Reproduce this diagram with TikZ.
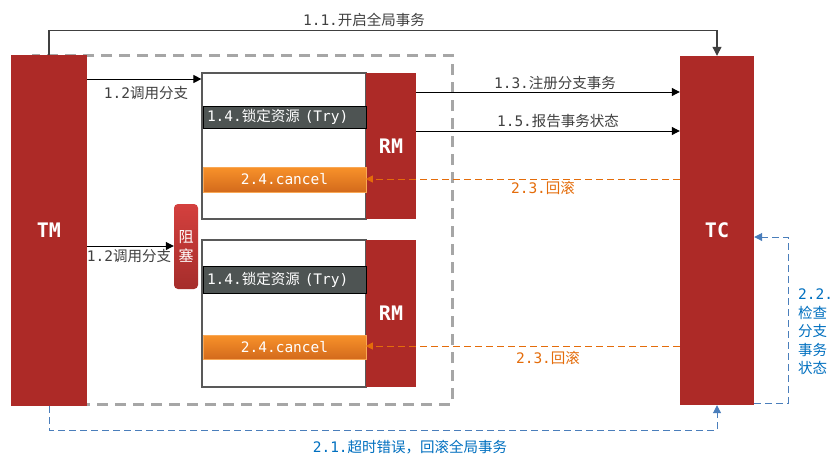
\documentclass[tikz,border=0pt]{standalone}
\usepackage{fontspec}
\setmainfont{Noto Sans CJK SC}
\newfontfamily\monof{DejaVu Sans Mono}
\usetikzlibrary{arrows.meta}
\definecolor{cred}{HTML}{AD2A27}
\definecolor{cdark}{HTML}{4E5453}
\definecolor{corgT}{HTML}{F8922A}
\definecolor{corgB}{HTML}{D36A1C}
\definecolor{corg}{HTML}{E46C0A}
\definecolor{cblue}{HTML}{4A7EBB}
\definecolor{cbluetxt}{HTML}{0070C0}
\definecolor{cgray}{HTML}{A6A6A6}
\definecolor{ctxt}{HTML}{404040}
\definecolor{cbox}{HTML}{595959}
\definecolor{cblkT}{HTML}{D4403E}
\definecolor{cblkB}{HTML}{A52D2B}
\tikzset{
  comp/.style={fill=cred, draw=none, text=white, font=\fontsize{20}{24}\selectfont\monof\bfseries, inner sep=0pt},
  branchbox/.style={draw=cbox, line width=1.2pt, fill=white, inner sep=0pt},
  trybar/.style={fill=cdark, draw=black, line width=1pt, text=white, font=\fontsize{14.5}{16}\selectfont, inner sep=0pt, minimum width=163pt, text width=155pt, align=left},
  cancelbar/.style={top color=corgT, bottom color=corgB, draw=corgT!80!white, line width=0.6pt, text=white, font=\fontsize{14.5}{16}\selectfont\monof, inner sep=0pt, minimum width=163pt},
  blockbox/.style={top color=cblkT, bottom color=cblkB, draw=none, rounded corners=4pt, text=white, font=\fontsize{15}{19}\selectfont, inner sep=0pt, minimum width=24pt, minimum height=85pt, align=center},
  lbl/.style={text=ctxt, font=\fontsize{14.5}{16}\selectfont, inner sep=0pt},
  olbl/.style={text=corg, font=\fontsize{14.5}{16}\selectfont, inner sep=0pt},
  blbl/.style={text=cbluetxt, font=\fontsize{14.5}{16}\selectfont, inner sep=0pt},
  arr/.style={draw=black, line width=1pt, -{Triangle[length=8pt,width=8pt]}},
  garr/.style={draw=ctxt, line width=1.2pt, -{Triangle[length=9pt,width=9pt]}},
  oarr/.style={draw=corg, line width=1pt, dash pattern=on 7pt off 4pt, -{Triangle[length=7pt,width=7pt]}},
  barr/.style={draw=cblue, line width=1pt, dash pattern=on 7pt off 4pt, -{Triangle[length=8pt,width=8pt]}},
}
\begin{document}
\begin{tikzpicture}[x=1pt,y=-1pt]
\useasboundingbox[fill=white] (0,0) rectangle (834,464);
% grey dashed boundary
\draw[cgray, line width=3pt, dash pattern=on 11pt off 7pt] (32,55) rectangle (452,404);
% TM and TC
\node[comp, minimum width=76pt, minimum height=351pt] (TM) at (49,230.5) {TM};
\node[comp, minimum width=74pt, minimum height=349pt] (TC) at (717,230.5) {TC};
% branch 1
\node[branchbox, minimum width=164pt, minimum height=146pt] (B1) at (284,146) {};
\node[comp, minimum width=50pt, minimum height=146pt] (RM1) at (391,146) {RM};
\node[trybar, minimum height=22pt] (T1) at (284.5,117) {{\monof 1.4.}锁定资源{\monof\ (Try)}};
\node[cancelbar, minimum height=25pt] (C1) at (284.5,179.5) {2.4.cancel};
% branch 2
\node[branchbox, minimum width=164pt, minimum height=147pt] (B2) at (284,313.5) {};
\node[comp, minimum width=50pt, minimum height=147pt] (RM2) at (391,313.5) {RM};
\node[trybar, minimum height=27pt] (T2) at (284.5,279.5) {{\monof 1.4.}锁定资源{\monof\ (Try)}};
\node[cancelbar, minimum height=24pt] (C2) at (284.5,347) {2.4.cancel};
% blocking
\node[blockbox] (BLK) at (186,246.5) {阻\\塞};
% 1.1
\draw[garr] (TM.north) -- ++(0,-24) -| (TC.north);
\node[lbl] (L11) at (364,20) {{\monof 1.1.}开启全局事务};
% 1.2
\draw[arr] (TM.east |- 0,79) -- (B1.west |- 0,79);
\node[lbl] (L12a) at (146,93) {{\monof 1.2}调用分支};
\draw[arr] (TM.east |- 0,246) -- (BLK.west |- 0,246);
\node[lbl] (L12b) at (129,256) {{\monof 1.2}调用分支};
% 1.3 / 1.5
\draw[arr] (RM1.east |- 0,92) -- (TC.west |- 0,92);
\node[lbl] (L13) at (555,83) {{\monof 1.3.}注册分支事务};
\draw[arr] (RM1.east |- 0,131) -- (TC.west |- 0,131);
\node[lbl] (L15) at (558,121) {{\monof 1.5.}报告事务状态};
% 2.3
\draw[oarr] (TC.west |- 0,179) -- (RM1.west |- 0,179);
\node[olbl] (L23a) at (543,188) {{\monof 2.3.}回滚};
\draw[oarr] (TC.west |- 0,346) -- (RM2.west |- 0,346);
\node[olbl] (L23b) at (548,358) {{\monof 2.3.}回滚};
% 2.1
\draw[barr] (TM.south) -- ++(0,24) -| (TC.south);
\node[blbl] (L21) at (410,447) {{\monof 2.1.}超时错误，回滚全局事务};
% 2.2
\draw[barr] (TC.east |- 0,403) -- (788,403) |- (TC.east |- 0,237);
\node[blbl, font=\fontsize{14.5}{18.5}\selectfont, align=left, anchor=north west] (L22) at (798,289) {{\monof 2.2.}\\检查\\分支\\事务\\状态};
\end{tikzpicture}
\end{document}
